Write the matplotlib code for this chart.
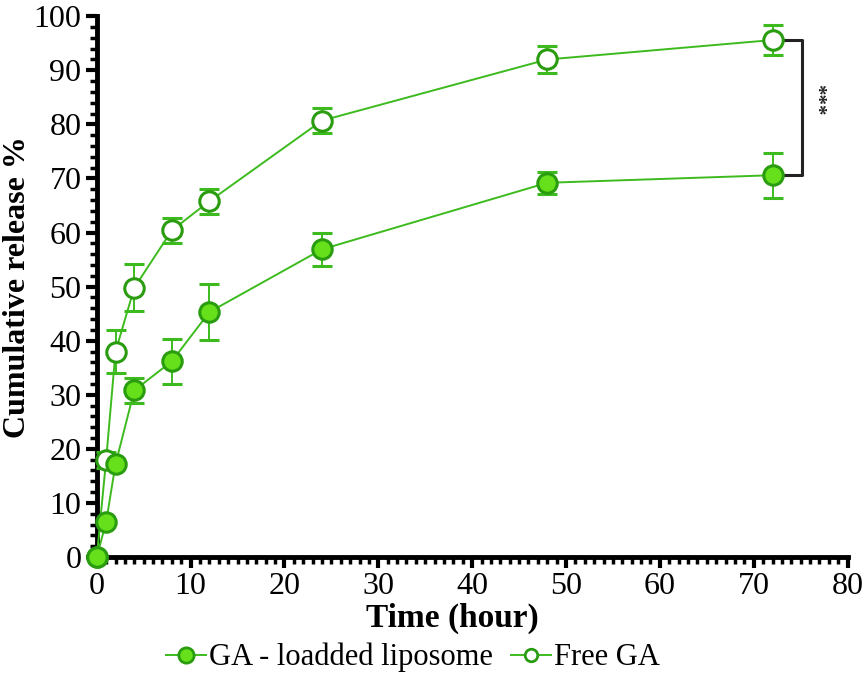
import numpy as np
import matplotlib
matplotlib.use('Agg')
import matplotlib.pyplot as plt
from matplotlib.ticker import MultipleLocator
from matplotlib.lines import Line2D

# data
time_h = [0, 1, 2, 4, 8, 12, 24, 48, 72]
lipo_mean = [0, 6.5, 17.2, 30.8, 36.2, 45.3, 56.9, 69.2, 70.6]
lipo_err = [0, 0, 0, 2.3, 4.2, 5.2, 3.0, 2.0, 4.2]
free_mean = [0, 18.0, 38.0, 49.8, 60.4, 65.8, 80.7, 92.0, 95.6]
free_err = [0, 1.5, 4.0, 4.3, 2.3, 2.3, 2.3, 2.5, 2.8]

LINE = '#3dbb1e'
EDGE = '#2a9c10'
FILL = '#66e01a'

plt.rcParams['font.family'] = ['Liberation Serif', 'DejaVu Serif']

fig = plt.figure(figsize=(8.64, 6.76), dpi=100)
ax = fig.add_axes([0.112, 0.176, 0.869, 0.800])

ax.errorbar(time_h, free_mean, yerr=free_err, color=LINE, lw=1.4,
            marker='o', ms=14, mfc='white', mec=EDGE, mew=2.2,
            capsize=7, elinewidth=1.4, capthick=1.4, clip_on=False, zorder=3)
ax.errorbar(time_h, lipo_mean, yerr=lipo_err, color=LINE, lw=1.4,
            marker='o', ms=14, mfc=FILL, mec=EDGE, mew=2.2,
            capsize=7, elinewidth=1.4, capthick=1.4, clip_on=False, zorder=4)

# significance bracket
bx0, bx1 = 73.2, 75.1
ax.plot([bx0, bx1, bx1, bx0], [free_mean[-1], free_mean[-1], lipo_mean[-1], lipo_mean[-1]],
        color='#222222', lw=2.2, clip_on=False)
ax.text(76.6, 84.5, '***', rotation=-90,
        ha='center', va='center', fontsize=15, fontweight='bold', color='#222222')

ax.set_xlim(0, 80)
ax.set_ylim(0, 100)
ax.xaxis.set_major_locator(MultipleLocator(10))
ax.xaxis.set_minor_locator(MultipleLocator(1))
ax.yaxis.set_major_locator(MultipleLocator(10))
ax.yaxis.set_minor_locator(MultipleLocator(2))
ax.tick_params(which='major', length=8, width=3, labelsize=23, pad=3)
ax.tick_params(which='minor', length=5, width=2.5)
for s in ['top', 'right']:
    ax.spines[s].set_visible(False)
for s in ['left', 'bottom']:
    ax.spines[s].set_linewidth(3.5)

ax.set_xlabel('Time (hour)', fontsize=24, fontweight='bold')
ax.set_ylabel('Cumulative release %', fontsize=23, fontweight='bold')
ax.xaxis.set_label_coords(0.473, -0.085)
ax.yaxis.set_label_coords(-0.086, 0.5)

handles = [
    Line2D([], [], color=LINE, lw=1.4, marker='o', ms=11, mfc=FILL, mec=EDGE, mew=2),
    Line2D([], [], color=LINE, lw=1.4, marker='o', ms=9, mfc='white', mec=EDGE, mew=2),
]
fig.legend(handles, ['GA - loadded liposome', 'Free GA'], loc='center',
           bbox_to_anchor=(0.478, 0.027), ncol=2, frameon=False, fontsize=22,
           handlelength=1.3, handletextpad=0.1, columnspacing=0.6)

fig.savefig('out.png', dpi=100)
